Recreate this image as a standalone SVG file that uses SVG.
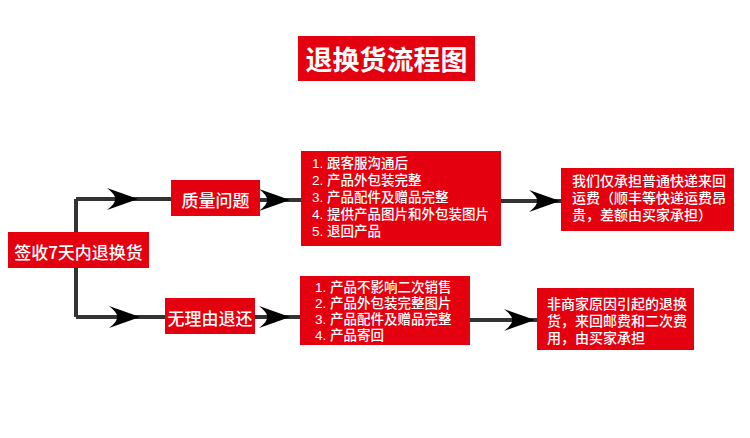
<svg xmlns="http://www.w3.org/2000/svg" xmlns:xlink="http://www.w3.org/1999/xlink" width="750" height="438" viewBox="0 0 750 438">
<defs>
<style>
.box{fill:#e5000f;}
.t{fill:#ffffff;font-family:"Noto Sans CJK SC","Noto Sans",sans-serif;dominant-baseline:central;}
.title{font-size:27px;font-weight:bold;text-anchor:middle;}
.lbl{font-size:17px;text-anchor:middle;font-weight:500;}
.lst{font-family:"Liberation Sans","Noto Sans CJK SC",sans-serif;font-size:13.5px;font-weight:500;}
.nt{font-family:"Liberation Sans","Noto Sans CJK SC",sans-serif;font-size:14px;font-weight:500;}
.ln{stroke:#333333;stroke-width:4;fill:none;}
.ah{fill:#000000;}
</style>
<path id="arr" d="M0,0 L-31,-11 Q-22,-4 -23,0 Q-22,4 -31,11 Z"/>
</defs>
<rect width="750" height="438" fill="#ffffff"/>
<g id="connectors">
<path class="ln" d="M76,199 V317 M76,199 H171 M76,317 H165 M260,200 H301 M500,201 H561 M255,317 H300 M469,320 H537"/>
<use xlink:href="#arr" class="ah" x="138" y="199"/>
<use xlink:href="#arr" class="ah" x="140" y="317"/>
<use xlink:href="#arr" class="ah" x="290" y="200"/>
<use xlink:href="#arr" class="ah" x="560" y="201"/>
<use xlink:href="#arr" class="ah" x="290" y="317"/>
<use xlink:href="#arr" class="ah" x="535" y="320"/>
</g>
<g id="title">
<rect class="box" x="298" y="36" width="177" height="45"/>
<text class="t title" x="386.5" y="58.5">退换货流程图</text>
</g>
<g id="start">
<rect class="box" x="8" y="232" width="141" height="36"/>
<text class="t lbl" x="78.5" y="251">签收7天内退换货</text>
</g>
<g id="quality">
<rect class="box" x="171" y="180" width="89" height="36"/>
<text class="t lbl" x="215.5" y="199">质量问题</text>
</g>
<g id="noreason">
<rect class="box" x="165" y="298" width="90" height="36"/>
<text class="t lbl" x="210" y="317">无理由退还</text>
</g>
<g id="qsteps">
<rect class="box" x="301" y="151" width="200" height="95"/>
<text class="t lst" x="312" y="163"><tspan x="312" y="163">1. 跟客服沟通后</tspan><tspan x="312" y="180">2. 产品外包装完整</tspan><tspan x="312" y="197">3. 产品配件及赠品完整</tspan><tspan x="312" y="214">4. 提供产品图片和外包装图片</tspan><tspan x="312" y="231">5. 退回产品</tspan></text>
</g>
<g id="qnote">
<rect class="box" x="561" y="168" width="173" height="63"/>
<text class="t nt" x="572" y="181"><tspan x="572" y="181">我们仅承担普通快递来回</tspan><tspan x="572" y="198">运费（顺丰等快递运费昂</tspan><tspan x="572" y="215">贵，差额由买家承担）</tspan></text>
</g>
<g id="nsteps">
<rect class="box" x="300" y="276" width="170" height="69"/>
<text class="t lst" x="315" y="287"><tspan x="315" y="287">1. 产品不影响二次销售</tspan><tspan x="315" y="303">2. 产品外包装完整图片</tspan><tspan x="315" y="319">3. 产品配件及赠品完整</tspan><tspan x="315" y="335">4. 产品寄回</tspan></text>
</g>
<g id="nnote">
<rect class="box" x="537" y="288" width="157" height="62"/>
<text class="t nt" x="547" y="304"><tspan x="547" y="304">非商家原因引起的退换</tspan><tspan x="547" y="321">货，来回邮费和二次费</tspan><tspan x="547" y="338">用，由买家承担</tspan></text>
</g>
</svg>
